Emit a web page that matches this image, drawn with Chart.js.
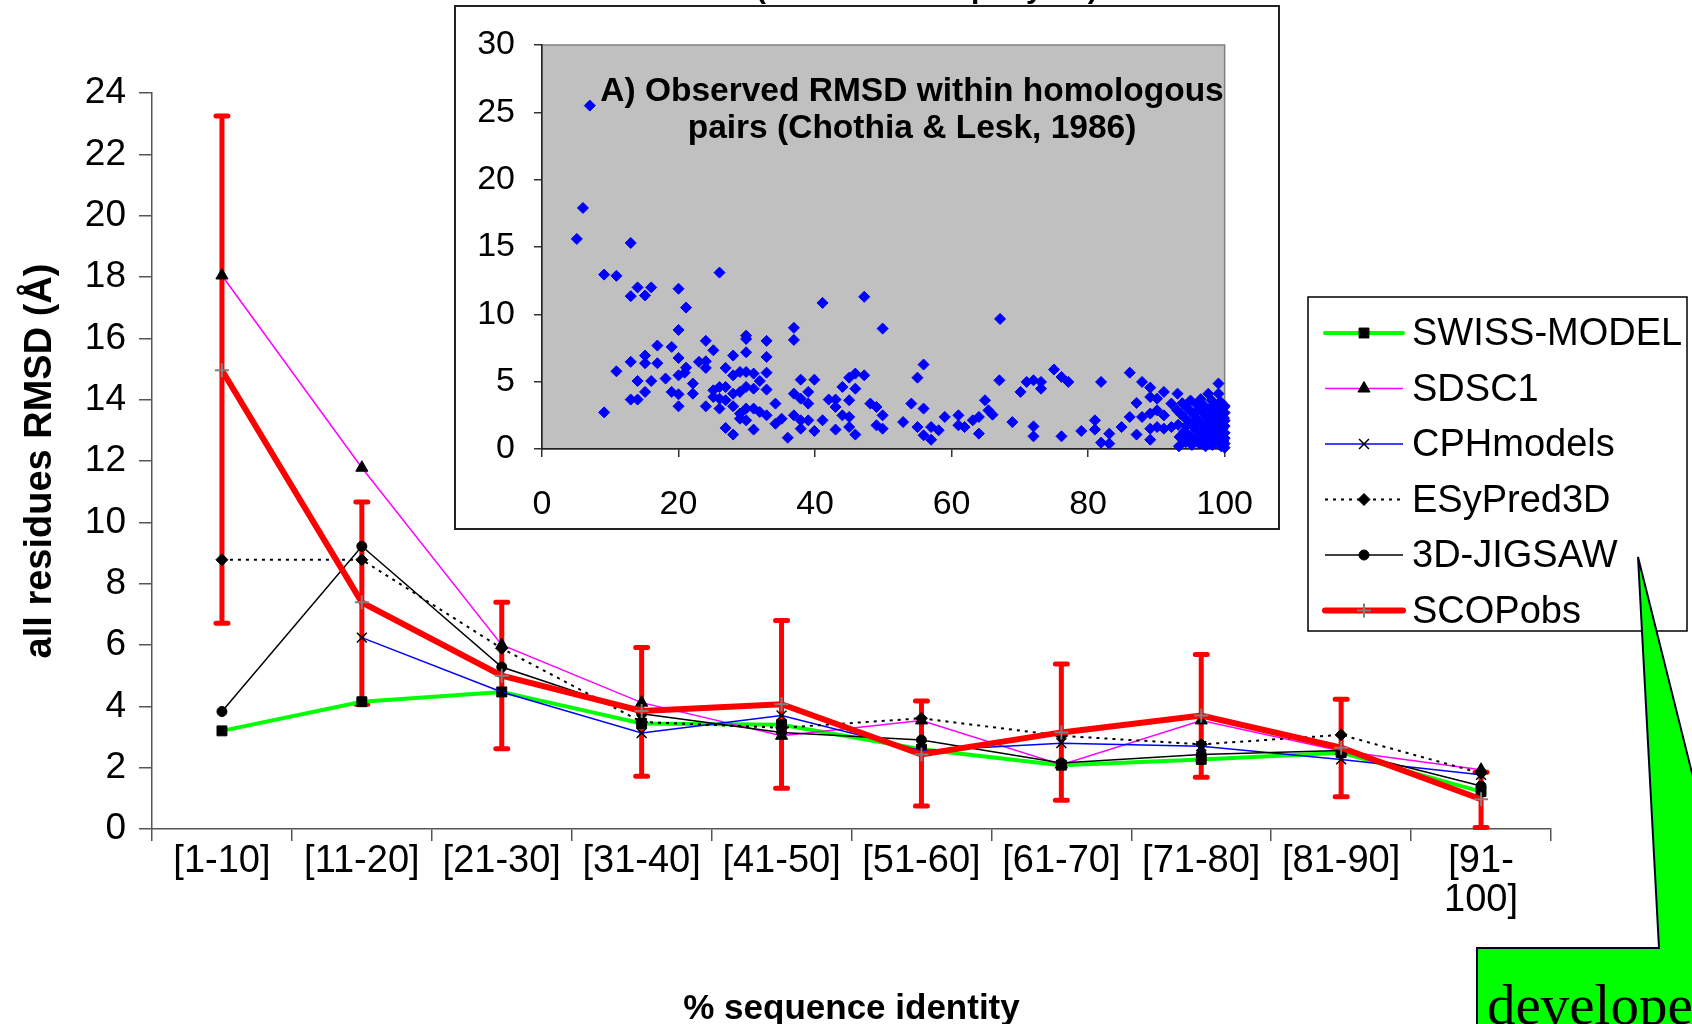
<!DOCTYPE html>
<html>
<head>
<meta charset="utf-8">
<script src="https://cdn.jsdelivr.net/npm/chart.js@4.4.1/dist/chart.umd.min.js"></script>
<style>
html, body { margin: 0; padding: 0; background: #fff; overflow: hidden; }
#wrap { position: relative; width: 1692px; height: 1024px; }
#mainChart { position: absolute; left: 0; top: 0; }
#insetChart { position: absolute; left: 454px; top: 5px; }
</style>
</head>
<body>
<div id="wrap">
<canvas id="mainChart" width="1692" height="1024"></canvas>
<canvas id="insetChart" width="826" height="525"></canvas>
</div>
<script>
// sequence identity bins
var identityBins = ['[1-10]', '[11-20]', '[21-30]', '[31-40]', '[41-50]', '[51-60]', '[61-70]', '[71-80]', '[81-90]', ['[91-', '100]']];

// all residues RMSD per server
var swissModel = [3.2, 4.15, 4.47, 3.44, 3.4, 2.6, 2.08, 2.27, 2.49, 1.22];
var sdsc1      = [18.05, 11.78, 6.0, 4.12, 3.04, 3.54, 2.1, 3.54, 2.54, 1.93];
var cphModels  = [null, 6.24, 4.47, 3.13, 3.7, 2.55, 2.8, 2.7, 2.27, 1.77];
var esyPred3d  = [8.78, 8.78, 5.89, 3.49, 3.3, 3.61, 3.04, 2.76, 3.07, 1.82];
var jigsaw3d   = [3.83, 9.22, 5.28, 3.76, 3.15, 2.9, 2.15, 2.43, 2.56, 1.4];
var scopObs    = [14.96, 7.39, 5.0, 3.85, 4.07, 2.43, 3.15, 3.7, 2.65, 0.97];
// error bar ends for SCOPobs
var scopHigh   = [23.25, 10.66, 7.39, 5.92, 6.8, 4.17, 5.38, 5.69, 4.23, 1.85];
var scopLow    = [6.71, 4.07, 2.62, 1.72, 1.33, 0.75, 0.94, 1.69, 1.05, 0.05];

var yTicksMain = [0, 24, 2];   // min, max, step
var yTicksInset = [0, 30, 5];
var xTicksInset = [0, 100, 20];

// Chothia & Lesk pairs: % identity / RMSD
var pairIdentity = [7.0, 6.0, 5.1, 13.0, 9.1, 10.9, 14.0, 16.0, 13.0, 15.1, 20.0, 21.1, 26.0, 41.1, 47.2, 49.9, 67.1, 36.9, 36.9, 20.0,
  9.1, 10.9, 13.0, 13.0, 14.0, 14.0, 15.1, 15.1, 15.1, 16.0, 16.9, 16.9, 18.1, 19.0, 19.0, 20.0, 20.0, 20.0, 20.0, 20.9,
  21.1, 22.1, 22.1, 23.0, 24.0, 24.0, 24.0, 24.0, 25.1, 25.1, 25.1, 26.0, 26.0, 26.0, 26.9, 26.9, 26.9, 26.9, 28.0, 28.0,
  28.0, 28.0, 28.0, 29.0, 29.0, 29.0, 29.0, 29.9, 29.9, 29.9, 29.9, 29.9, 29.9, 29.9, 31.0, 31.0, 31.0, 31.0, 31.9, 31.9,
  32.9, 32.9, 32.9, 32.9, 32.9, 34.2, 34.2, 35.1, 36.0, 36.9, 36.9, 37.9, 37.9, 37.9, 37.9, 39.0, 39.0, 39.0, 39.9, 39.9,
  41.1, 42.0, 43.0, 43.0, 43.0, 44.0, 44.0, 45.0, 45.0, 45.0, 45.0, 45.9, 45.9, 45.9, 47.2, 48.1, 49.0, 49.0, 49.9, 49.9,
  52.9, 54.1, 55.0, 55.0, 55.9, 55.9, 55.9, 57.0, 57.0, 58.1, 59.0, 61.0, 61.0, 61.9, 63.1, 64.0, 64.0, 64.9, 65.4, 66.0,
  67.0, 68.9, 70.1, 71.0, 72.0, 72.0, 72.0, 73.1, 73.1, 75.0, 76.1, 76.1, 77.1, 79.0, 81.0, 81.0, 81.9, 81.9, 83.1, 83.1,
  84.9, 86.1, 86.1, 87.1, 87.1, 87.9, 87.9, 89.1, 89.1, 89.1, 89.1, 89.1, 90.1, 90.1, 90.1, 91.1, 91.1, 91.1, 92.2, 92.2,
  93.1, 93.0, 93.2, 93.4, 93.3, 93.8, 94.0, 94.1, 94.3, 94.6, 94.8, 94.9, 95.0, 95.2, 95.4, 95.5, 95.7, 95.9, 96.0, 96.2,
  96.3, 96.5, 96.6, 96.8, 96.9, 97.0, 97.2, 97.3, 97.4, 97.6, 97.7, 97.8, 97.9, 98.0, 98.1, 98.2, 98.3, 98.4, 98.5, 98.6,
  98.7, 98.8, 98.9, 99.0, 99.1, 99.1, 99.2, 99.3, 99.4, 99.5, 99.6, 99.7, 99.8, 99.9, 100, 100, 100, 100, 100, 100,
  100, 100, 99.9, 99.5, 98.8, 98.0, 97.1, 96.1, 95.3, 94.4, 93.6];
var pairRmsd = [25.5, 17.9, 15.6, 15.3, 12.95, 12.86, 12.0, 12.0, 11.35, 11.4, 11.9, 10.5, 13.1, 10.85, 11.3, 8.94, 9.66, 9.0, 8.1, 8.84,
  2.72, 5.77, 6.47, 3.67, 3.67, 5.05, 6.94, 6.37, 4.24, 5.05, 7.68, 6.37, 5.23, 7.58, 4.24, 6.76, 5.47, 4.06, 3.17, 5.67,
  6.04, 4.86, 4.11, 6.47, 8.03, 6.51, 6.02, 3.17, 7.33, 4.36, 3.86, 4.6, 3.74, 3.0, 6.02, 4.6, 3.62, 1.56, 6.94, 5.47,
  4.11, 3.17, 1.07, 5.72, 4.24, 2.63, 2.25, 8.42, 8.17, 7.18, 5.72, 4.61, 3.0, 2.13, 5.6, 4.48, 3.0, 1.44, 5.05, 2.75,
  8.03, 6.84, 5.67, 4.41, 2.5, 3.37, 1.88, 2.25, 0.84, 4.11, 2.5, 5.15, 3.74, 2.13, 1.51, 4.24, 3.37, 2.13, 5.15, 1.34,
  2.13, 3.67, 3.67, 3.12, 1.44, 4.61, 2.5, 5.3, 3.62, 2.38, 1.63, 5.6, 4.48, 1.07, 5.47, 3.37, 3.12, 1.76, 2.5, 1.51,
  2.0, 3.37, 5.3, 1.63, 6.27, 3.0, 1.02, 0.69, 1.63, 1.39, 2.38, 2.5, 1.76, 1.63, 2.13, 2.38, 1.14, 3.62, 2.87, 2.55,
  5.1, 2.0, 4.24, 4.98, 5.1, 1.68, 0.94, 4.98, 4.48, 5.9, 5.35, 0.94, 4.98, 1.34, 2.13, 1.44, 4.98, 0.47, 1.14, 0.4,
  1.63, 5.67, 2.38, 3.42, 1.07, 4.98, 2.38, 4.56, 3.86, 2.63, 1.51, 0.69, 3.74, 2.87, 1.63, 4.24, 2.5, 1.51, 3.37, 1.63,
  4.11, 2.9, 1.8, 0.9, 0.2, 3.4, 2.4, 1.3, 0.5, 3.0, 2.0, 1.0, 3.6, 0.3, 2.6, 1.6, 0.7, 3.3, 2.2, 1.2,
  0.4, 3.7, 2.8, 1.8, 0.9, 3.2, 0.2, 2.4, 1.4, 4.1, 0.6, 3.0, 2.0, 1.1, 3.6, 0.3, 2.6, 1.6, 0.8, 3.3,
  2.2, 1.3, 0.5, 2.9, 4.86, 4.11, 1.9, 0.9, 3.5, 0.2, 2.5, 1.5, 0.6, 3.1, 3.2, 2.7, 2.1, 1.7, 1.2, 0.8,
  0.4, 0.1, 2.3, 1.1, 2.7, 0.4, 1.6, 2.9, 1.9, 1.7, 2.6];

var FONT = "'Liberation Sans', Arial, sans-serif";

// line styles, one per server (same order as the legend)
var series = [
    {label: 'SWISS-MODEL', data: swissModel, color: '#00ff00', width: 4, dash: [], style: 'rect', radius: 7, mark: '#000', markWidth: 1, order: 5},
    {label: 'SDSC1', data: sdsc1, color: '#ff00ff', width: 1.5, dash: [], style: 'triangle', radius: 7, mark: '#000', markWidth: 1, order: 4},
    {label: 'CPHmodels', data: cphModels, color: '#0000ff', width: 1.5, dash: [], style: 'crossRot', radius: 7, mark: '#000', markWidth: 1.5, order: 3},
    {label: 'ESyPred3D', data: esyPred3d, color: '#000', width: 2, dash: [3, 5], style: 'rectRot', radius: 6, mark: '#000', markWidth: 1, order: 2},
    {label: '3D-JIGSAW', data: jigsaw3d, color: '#000', width: 1.5, dash: [], style: 'circle', radius: 5, mark: '#000', markWidth: 1, order: 1},
    {label: 'SCOPobs', data: scopObs, color: '#ff0000', width: 6, dash: [], style: 'cross', radius: 7, mark: '#808080', markWidth: 2, order: 0}
];

var mainDatasets = series.map(function (s) {
    return {
        label: s.label,
        data: s.data,
        borderColor: s.color,
        borderWidth: s.width,
        borderDash: s.dash,
        pointStyle: s.style,
        pointRadius: s.radius,
        pointBackgroundColor: s.mark,
        pointBorderColor: s.mark,
        pointBorderWidth: s.markWidth,
        fill: false,
        tension: 0,
        order: s.order,
        clip: false
    };
});

var mainExtras = {
    id: 'mainExtras',
    beforeDatasetsDraw: function (chart) {
        // SCOPobs error bars
        var ctx = chart.ctx, xs = chart.scales.x, ys = chart.scales.y;
        ctx.save();
        ctx.strokeStyle = '#ff0000';
        ctx.lineWidth = 5;
        ctx.lineCap = 'round';
        for (var i = 0; i < scopObs.length; i++) {
            var x = xs.getPixelForValue(i);
            var yh = ys.getPixelForValue(scopHigh[i]);
            var yl = ys.getPixelForValue(scopLow[i]);
            ctx.beginPath();
            ctx.moveTo(x, yh); ctx.lineTo(x, yl);
            ctx.moveTo(x - 6, yh); ctx.lineTo(x + 6, yh);
            ctx.moveTo(x - 6, yl); ctx.lineTo(x + 6, yl);
            ctx.stroke();
        }
        ctx.restore();
    },
    afterDraw: function (chart) {
        var ctx = chart.ctx;
        ctx.save();

        // title of the upper panel, cut off at the top of the page
        ctx.fillStyle = '#000';
        ctx.font = 'bold 30px ' + FONT;
        ctx.textBaseline = 'alphabetic';
        ctx.textAlign = 'left';
        ctx.fillText('(CASP models per year)', 756, -2);

        // legend box
        var lx = 1308, ly = 297, lw = 379, lh = 334;
        ctx.fillStyle = '#fff';
        ctx.fillRect(lx, ly, lw, lh);
        ctx.strokeStyle = '#000';
        ctx.lineWidth = 1.5;
        ctx.strokeRect(lx, ly, lw, lh);
        ctx.font = '38px ' + FONT;
        ctx.textBaseline = 'middle';
        series.forEach(function (s, i) {
            var y = 333 + i * 55.5;
            ctx.save();
            ctx.strokeStyle = s.color;
            ctx.lineWidth = s.width;
            ctx.setLineDash(s.dash);
            ctx.lineCap = s.width > 3 ? 'round' : 'butt';
            ctx.beginPath();
            ctx.moveTo(1325, y); ctx.lineTo(1403, y);
            ctx.stroke();
            ctx.restore();
            ctx.fillStyle = s.mark;
            ctx.strokeStyle = s.mark;
            ctx.lineWidth = s.markWidth;
            Chart.helpers.drawPoint(ctx, {pointStyle: s.style, radius: s.radius, borderWidth: s.markWidth, rotation: 0}, 1364, y);
            ctx.fillStyle = '#000';
            ctx.fillText(s.label, 1412, y + 2);
        });

        // green callout in the corner
        ctx.beginPath();
        ctx.moveTo(1638, 557);
        ctx.lineTo(1730, 925);
        ctx.lineTo(1730, 1040);
        ctx.lineTo(1477, 1040);
        ctx.lineTo(1477, 948);
        ctx.lineTo(1659, 948);
        ctx.closePath();
        ctx.fillStyle = '#00ff00';
        ctx.fill();
        ctx.strokeStyle = '#000022';
        ctx.lineWidth = 2;
        ctx.stroke();
        ctx.fillStyle = '#000';
        ctx.font = "57px 'Liberation Serif', 'Times New Roman', serif";
        ctx.textBaseline = 'alphabetic';
        ctx.fillText('developed', 1487, 1024);
        ctx.restore();
    }
};

var mainChart = new Chart(document.getElementById('mainChart').getContext('2d'), {
    type: 'line',
    data: { labels: identityBins, datasets: mainDatasets },
    options: {
        responsive: false,
        animation: false,
        devicePixelRatio: 1,
        layout: { padding: { top: 93, right: 141, bottom: 0, left: 0 } },
        plugins: { legend: { display: false }, tooltip: { enabled: false } },
        scales: {
            x: {
                offset: true,
                grid: { display: true, drawOnChartArea: false, offset: true, tickLength: 12, color: '#555', lineWidth: 1.5 },
                border: { color: '#555', width: 1.5 },
                ticks: { font: { family: FONT, size: 38, lineHeight: 1.03 }, color: '#000', padding: 1, maxRotation: 0, autoSkip: false },
                title: { display: true, text: '% sequence identity', color: '#000', font: { family: FONT, size: 35, weight: 'bold', lineHeight: 0.85 }, padding: 0 },
                afterFit: function (scale) { scale.height = 195; }
            },
            y: {
                min: yTicksMain[0],
                max: yTicksMain[1],
                grid: { display: true, drawOnChartArea: false, tickLength: 13, color: '#555', lineWidth: 1.5 },
                border: { color: '#555', width: 1.5 },
                ticks: { stepSize: yTicksMain[2], font: { family: FONT, size: 37 }, color: '#000', padding: 13 },
                title: { display: true, text: 'all residues RMSD (Å)', color: '#000', font: { family: FONT, size: 38, weight: 'bold', lineHeight: 1.2 }, padding: { top: 18, bottom: 0 } },
                afterFit: function (scale) { scale.width = 152; }
            }
        }
    },
    plugins: [mainExtras]
});

// inset: observed RMSD within homologous pairs
var insetExtras = {
    id: 'insetExtras',
    beforeDraw: function (chart) {
        var ctx = chart.ctx, a = chart.chartArea;
        ctx.save();
        ctx.fillStyle = '#fff';
        ctx.fillRect(0, 0, chart.width, chart.height);
        ctx.strokeStyle = '#222';
        ctx.lineWidth = 2;
        ctx.strokeRect(1, 1, chart.width - 2, chart.height - 2);
        ctx.fillStyle = '#c0c0c0';
        ctx.fillRect(a.left, a.top, a.right - a.left, a.bottom - a.top);
        ctx.strokeStyle = '#808080';
        ctx.lineWidth = 1.5;
        ctx.strokeRect(a.left, a.top, a.right - a.left, a.bottom - a.top);
        ctx.restore();
    },
    afterDatasetsDraw: function (chart) {
        var ctx = chart.ctx;
        ctx.save();
        ctx.fillStyle = '#000';
        ctx.font = 'bold 33.5px ' + FONT;
        ctx.textAlign = 'center';
        ctx.textBaseline = 'middle';
        ctx.fillText('A) Observed RMSD within homologous', 458, 87);
        ctx.fillText('pairs (Chothia & Lesk, 1986)', 458, 124);
        ctx.restore();
    }
};

var insetPoints = pairIdentity.map(function (x, i) { return { x: x, y: pairRmsd[i] }; });

var insetChart = new Chart(document.getElementById('insetChart').getContext('2d'), {
    type: 'scatter',
    data: {
        datasets: [{
            label: 'pairs',
            data: insetPoints,
            pointStyle: 'rectRot',
            pointRadius: 5.5,
            backgroundColor: '#0000ff',
            borderColor: '#0000ff',
            borderWidth: 1,
            clip: false
        }]
    },
    options: {
        responsive: false,
        animation: false,
        devicePixelRatio: 1,
        layout: { padding: { top: 40, right: 53, bottom: 0, left: 0 } },
        plugins: { legend: { display: false }, tooltip: { enabled: false } },
        scales: {
            x: {
                type: 'linear',
                min: xTicksInset[0],
                max: xTicksInset[1],
                grid: { display: true, drawOnChartArea: false, tickLength: 8, color: '#333', lineWidth: 1.5 },
                border: { color: '#222', width: 1.5 },
                ticks: { stepSize: xTicksInset[2], font: { family: FONT, size: 34 }, color: '#000', padding: 27, maxRotation: 0 },
                afterFit: function (scale) { scale.height = 81; }
            },
            y: {
                min: yTicksInset[0],
                max: yTicksInset[1],
                grid: { display: true, drawOnChartArea: false, tickLength: 8, color: '#333', lineWidth: 1.5 },
                border: { color: '#222', width: 1.5 },
                ticks: { stepSize: yTicksInset[2], font: { family: FONT, size: 34 }, color: '#000', padding: 19 },
                afterFit: function (scale) { scale.width = 88; }
            }
        }
    },
    plugins: [insetExtras]
});
</script>
</body>
</html>
